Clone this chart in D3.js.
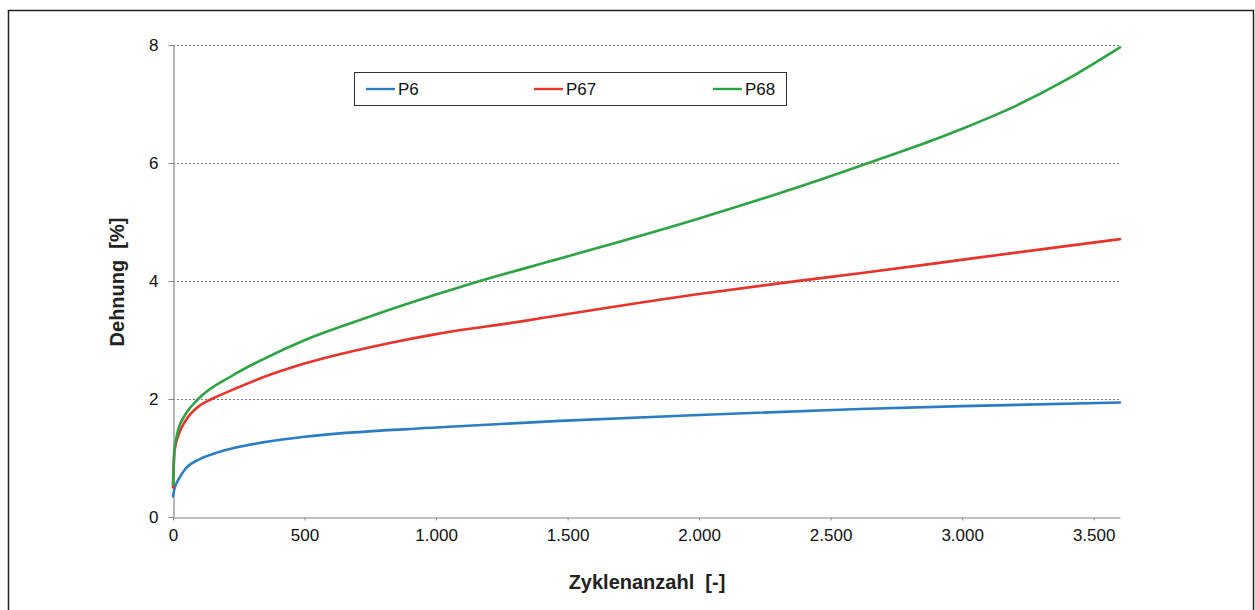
<!DOCTYPE html>
<html>
<head>
<meta charset="utf-8">
<script src="https://cdn.jsdelivr.net/npm/d3@7"></script>
<style>
  html, body { margin: 0; padding: 0; background: #fff; }
  svg { display: block; font-family: "Liberation Sans", Arial, sans-serif; }
</style>
</head>
<body>
<svg id="chart" width="1255" height="610"></svg>
<script>
// Strain curves over load cycles for three specimens
const seriesNames = ["P6", "P67", "P68"];
const seriesColors = ["#2a7dc4", "#e8322a", "#2ca444"];

const p6Cycles  = [0, 5, 10, 20, 46, 96, 160, 223, 350, 500, 1015, 1471, 2000, 2611, 3000, 3600];
const p6Strain  = [0.35, 0.47, 0.54, 0.63, 0.81, 0.97, 1.08, 1.16, 1.27, 1.36, 1.52, 1.63, 1.73, 1.83, 1.88, 1.94];

const p67Cycles = [0, 5, 10, 20, 46, 96, 147, 223, 350, 500, 825, 1000, 1331, 1471, 2000, 2356, 2611, 3067, 3600];
const p67Strain = [0.5, 1.08, 1.22, 1.38, 1.62, 1.87, 2.0, 2.15, 2.38, 2.60, 2.95, 3.10, 3.32, 3.42, 3.78, 3.99, 4.13, 4.40, 4.71];

const p68Cycles = [0, 5, 10, 20, 46, 96, 223, 350, 502, 711, 1000, 1160, 1471, 2000, 2535, 2637, 2903, 3000, 3200, 3400, 3600];
const p68Strain = [0.55, 1.12, 1.28, 1.48, 1.73, 2.0, 2.39, 2.69, 3.0, 3.34, 3.77, 3.99, 4.38, 5.06, 5.83, 5.99, 6.41, 6.58, 6.96, 7.42, 7.96];

const xTicks = [0, 500, 1000, 1500, 2000, 2500, 3000, 3500];
const yTicks = [0, 2, 4, 6, 8];
const xTitle = "Zyklenanzahl  [-]";
const yTitle = "Dehnung  [%]";

const series = [
  { name: seriesNames[0], color: seriesColors[0], x: p6Cycles,  y: p6Strain },
  { name: seriesNames[1], color: seriesColors[1], x: p67Cycles, y: p67Strain },
  { name: seriesNames[2], color: seriesColors[2], x: p68Cycles, y: p68Strain }
];

const svg = d3.select("#chart");
const de = d3.formatLocale({ decimal: ",", thousands: ".", grouping: [3], currency: ["", " €"] });
const fmt = de.format(",d");

const plotLeft = 173, plotRight = 1120, plotTop = 45, plotBottom = 517;
const x = d3.scaleLinear().domain([0, 3600]).range([plotLeft, plotRight]);
const y = d3.scaleLinear().domain([0, 8]).range([plotBottom, plotTop]);

// outer frame
svg.append("rect")
  .attr("x", 8.5).attr("y", 10.5).attr("width", 1245).attr("height", 620)
  .attr("fill", "none").attr("stroke", "#222").attr("stroke-width", 1.5);

// dotted grid lines
svg.append("g").selectAll("line")
  .data(yTicks.filter(d => d > 0))
  .join("line")
  .attr("x1", plotLeft).attr("x2", plotRight)
  .attr("y1", d => Math.round(y(d)) + 0.5).attr("y2", d => Math.round(y(d)) + 0.5)
  .attr("stroke", "#777").attr("stroke-width", 1).attr("stroke-dasharray", "2,2");

// x axis
const xAxis = svg.append("g")
  .attr("transform", `translate(0,${plotBottom + 0.5})`)
  .call(d3.axisBottom(x).tickValues(xTicks).tickFormat(fmt).tickSize(3).tickSizeOuter(0));
xAxis.select(".domain").attr("stroke", "#888").attr("stroke-width", 1.2);
xAxis.selectAll(".tick line").attr("stroke", "#888");
xAxis.selectAll(".tick text")
  .attr("font-size", 17).attr("fill", "#111").attr("y", 8).attr("dy", "0.9em")
  .attr("font-family", "'Liberation Sans', Arial, sans-serif");

// y axis
const yAxis = svg.append("g")
  .attr("transform", `translate(${plotLeft + 0.5},0)`)
  .call(d3.axisLeft(y).tickValues(yTicks).tickFormat(d3.format("d")).tickSize(5).tickSizeOuter(0));
yAxis.select(".domain").attr("stroke", "#888").attr("stroke-width", 1.2);
yAxis.selectAll(".tick line").attr("stroke", "#888");
yAxis.selectAll(".tick text")
  .attr("font-size", 17).attr("fill", "#111").attr("x", -15)
  .attr("font-family", "'Liberation Sans', Arial, sans-serif");

// curves
const line = d3.line()
  .x(d => x(d[0])).y(d => y(d[1]))
  .curve(d3.curveMonotoneX);

svg.append("g").selectAll("path")
  .data(series)
  .join("path")
  .attr("d", s => line(s.x.map((v, i) => [v, s.y[i]])))
  .attr("fill", "none")
  .attr("stroke", s => s.color)
  .attr("stroke-width", 2.6)
  .attr("stroke-linecap", "round");

// axis titles
svg.append("text")
  .attr("x", 647).attr("y", 589)
  .attr("text-anchor", "middle")
  .attr("font-size", 20).attr("font-weight", "bold").attr("fill", "#222")
  .attr("xml:space", "preserve")
  .text(xTitle);

svg.append("text")
  .attr("transform", "translate(124,282) rotate(-90)")
  .attr("text-anchor", "middle")
  .attr("font-size", 20).attr("font-weight", "bold").attr("fill", "#222")
  .attr("xml:space", "preserve")
  .text(yTitle);

// legend
const legend = svg.append("g");
legend.append("rect")
  .attr("x", 354.5).attr("y", 72.5).attr("width", 432).attr("height", 33)
  .attr("fill", "#fff").attr("stroke", "#333").attr("stroke-width", 1);
const legendX = [366, 534, 713];
const items = legend.selectAll("g.item")
  .data(series)
  .join("g").attr("class", "item")
  .attr("transform", (d, i) => `translate(${legendX[i]},89)`);
items.append("line")
  .attr("x1", 0).attr("x2", 29).attr("y1", 0).attr("y2", 0)
  .attr("stroke", d => d.color).attr("stroke-width", 2.4);
items.append("text")
  .attr("x", 32).attr("y", 6)
  .attr("font-size", 17).attr("fill", "#111")
  .text(d => d.name);
</script>
</body>
</html>
